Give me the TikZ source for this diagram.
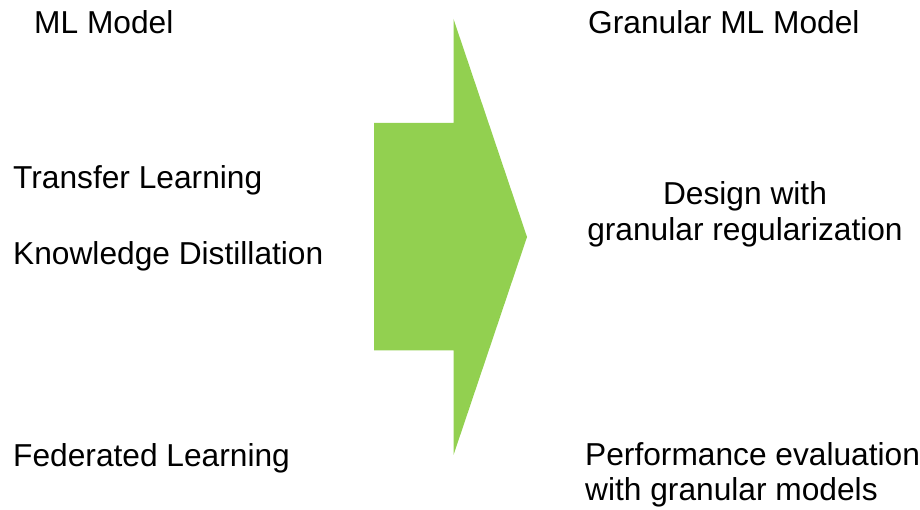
\documentclass[tikz,border=0pt]{standalone}
\usepackage{fontspec}
\setmainfont{Liberation Sans}
\definecolor{arrowgreen}{HTML}{92D050}
\begin{document}
\begin{tikzpicture}[x=1pt,y=1pt,
  lbl/.style={inner sep=0pt, font=\fontsize{31.7}{36}\selectfont, text=black}]
\useasboundingbox (0,0) rectangle (920,510);
\fill[white] (0,0) rectangle (920,510);
% big block arrow
\fill[arrowgreen] (374,387) -- (453.5,387) -- (453.5,491) -- (527,273) -- (453.5,55) -- (453.5,159.5) -- (374,159.5) -- cycle;
% left texts
\node[lbl, anchor=base west] (ml) at (34,476) {ML Model};
\node[lbl, anchor=base west] (tl) at (13,321) {Transfer Learning};
\node[lbl, anchor=base west] (kd) at (13,245) {Knowledge Distillation};
\node[lbl, anchor=base west] (fl) at (13,43.5) {Federated Learning};
% right texts
\node[lbl, anchor=base west] (gml) at (588,476.5) {Granular ML Model};
\node[lbl, anchor=base] (d1) at (745,305) {Design with};
\node[lbl, anchor=base] (d2) at (745,269) {granular regularization};
\node[lbl, anchor=base west] (p1) at (585,44) {Performance evaluation};
\node[lbl, anchor=base west] (p2) at (585,9.5) {with granular models};
\end{tikzpicture}
\end{document}
